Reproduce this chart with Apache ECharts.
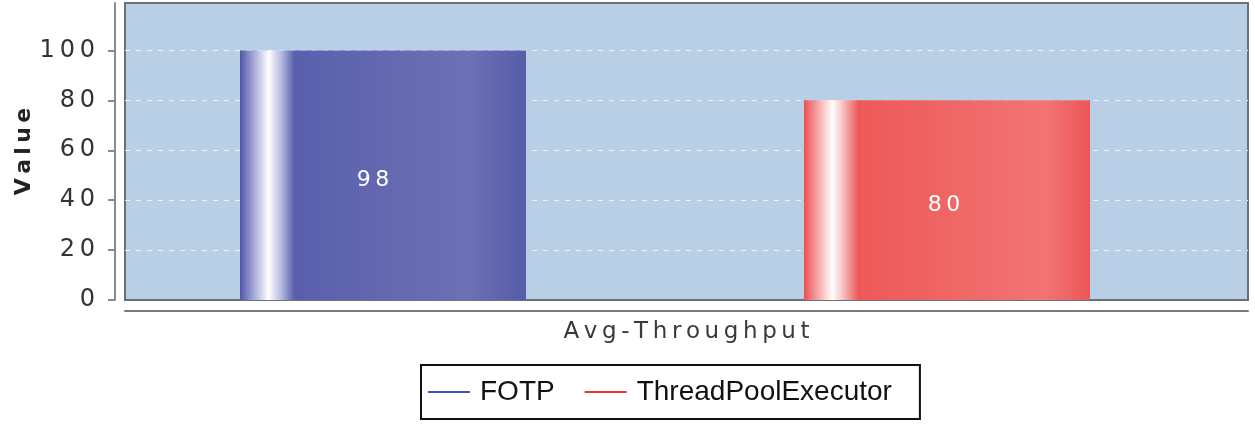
<!DOCTYPE html>
<html style="height: 100%">
<head>
  <meta charset="UTF-8">
  <title>Avg-Throughput</title>
</head>
<body style="height: 100%; margin: 0; background: #fff">
<div id="container" style="width: 1255px; height: 428px"></div>
<script type="text/javascript" src="https://cdn.jsdelivr.net/npm/echarts@6/dist/echarts.min.js"></script>
<script type="text/javascript">
  // data
  var categories = ['Avg-Throughput'];
  var seriesNames = ['FOTP', 'ThreadPoolExecutor'];
  var barValues = [100, 80];       // bar heights as drawn
  var barLabels = ['98', '80'];    // text printed on the bars
  var yTicks = [0, 20, 40, 60, 80, 100];

  var lineColors = ['#4b50ae', '#e8383d'];

  // the old chart spreads its letters out a bit
  function spaced(s) {
    return String(s).split('').join('\u2009');
  }

  var blueFill = new echarts.graphic.LinearGradient(0, 0, 1, 0, [
    { offset: 0, color: '#5055a8' },
    { offset: 0.05, color: '#a9acd8' },
    { offset: 0.1, color: '#ffffff' },
    { offset: 0.14, color: '#bfc1e3' },
    { offset: 0.19, color: '#5a5fad' },
    { offset: 0.5, color: '#6368b0' },
    { offset: 0.8, color: '#6c70b5' },
    { offset: 1, color: '#575ca9' }
  ]);
  var redFill = new echarts.graphic.LinearGradient(0, 0, 1, 0, [
    { offset: 0, color: '#ec5050' },
    { offset: 0.05, color: '#f5a8a8' },
    { offset: 0.1, color: '#ffffff' },
    { offset: 0.14, color: '#f7b9b9' },
    { offset: 0.19, color: '#ee5858' },
    { offset: 0.6, color: '#f06a6a' },
    { offset: 0.85, color: '#f27474' },
    { offset: 1, color: '#ec5555' }
  ]);
  var fills = [blueFill, redFill];
  var labelOffsets = [[-10, 5], [-3, 5]];

  var dom = document.getElementById('container');
  var myChart = echarts.init(dom, null, { renderer: 'canvas' });

  var option = {
    animation: false,
    grid: [
      // drawn plot: background, border, axes
      {
        left: 125, top: 3, width: 1123, height: 297,
        outerBoundsMode: 'none',
        containLabel: false,
        show: true,
        backgroundColor: '#b9cfe5',
        borderColor: '#6c7075',
        borderWidth: 2
      },
      // bars sit in a slightly narrower box, like the original
      { left: 125, top: 3, width: 1080, height: 297, outerBoundsMode: 'none' }
    ],
    xAxis: [
      {
        gridIndex: 0,
        type: 'category',
        data: categories,
        offset: 11,
        axisLine: { show: true, onZero: false, lineStyle: { color: '#7a7a7a', width: 2 } },
        axisTick: { show: false },
        axisLabel: {
          margin: 10,
          color: '#3a3a3a',
          fontFamily: 'DejaVu Sans',
          fontSize: 23,
          formatter: spaced
        }
      },
      { gridIndex: 1, type: 'category', data: categories, show: false }
    ],
    yAxis: [
      {
        gridIndex: 0,
        type: 'value',
        min: 0,
        max: 119,
        interval: 20,
        offset: 10,
        name: spaced('Value'),
        nameLocation: 'middle',
        nameGap: 80,
        nameMoveOverlap: false,
        nameRotate: 90,
        nameTextStyle: {
          fontFamily: 'DejaVu Sans',
          fontWeight: 'bold',
          fontSize: 22,
          color: '#222'
        },
        axisLine: { show: true, lineStyle: { color: '#8a8a8a', width: 2 } },
        axisTick: {
          show: true, length: 7, customValues: yTicks,
          lineStyle: { color: '#8a8a8a', width: 2 }
        },
        axisLabel: {
          margin: 20,
          customValues: yTicks,
          color: '#333',
          fontFamily: 'DejaVu Sans',
          fontSize: 24,
          formatter: spaced
        },
        splitLine: {
          show: true,
          showMinLine: false,
          showMaxLine: true,
          lineStyle: { color: '#eef3f8', type: [5, 6], width: 1 }
        }
      },
      { gridIndex: 1, type: 'value', min: 0, max: 119, show: false }
    ],
    legend: {
      left: 421,
      top: 365,
      orient: 'horizontal',
      backgroundColor: '#fff',
      borderColor: '#111',
      borderWidth: 2,
      borderRadius: 0,
      padding: [13, 28, 13, 7],
      itemGap: 30,
      itemWidth: 42,
      itemHeight: 2,
      icon: 'rect',
      textStyle: {
        fontFamily: 'Liberation Sans',
        fontSize: 28,
        color: '#111',
        padding: [0, 0, 0, 5]
      },
      data: seriesNames.map(function (name, i) {
        return { name: name, itemStyle: { color: lineColors[i] } };
      })
    },
    series: seriesNames.map(function (name, i) {
      return {
        name: name,
        type: 'bar',
        xAxisIndex: 1,
        yAxisIndex: 1,
        barWidth: 286,
        barGap: '97.2%',
        itemStyle: { color: fills[i] },
        label: {
          show: true,
          position: 'inside',
          offset: labelOffsets[i],
          color: '#fff',
          fontFamily: 'DejaVu Sans',
          fontSize: 22,
          formatter: function () { return spaced(barLabels[i]); }
        },
        data: [barValues[i]]
      };
    })
  };
  myChart.setOption(option);

  window.addEventListener('resize', myChart.resize);
</script>
</body>
</html>
